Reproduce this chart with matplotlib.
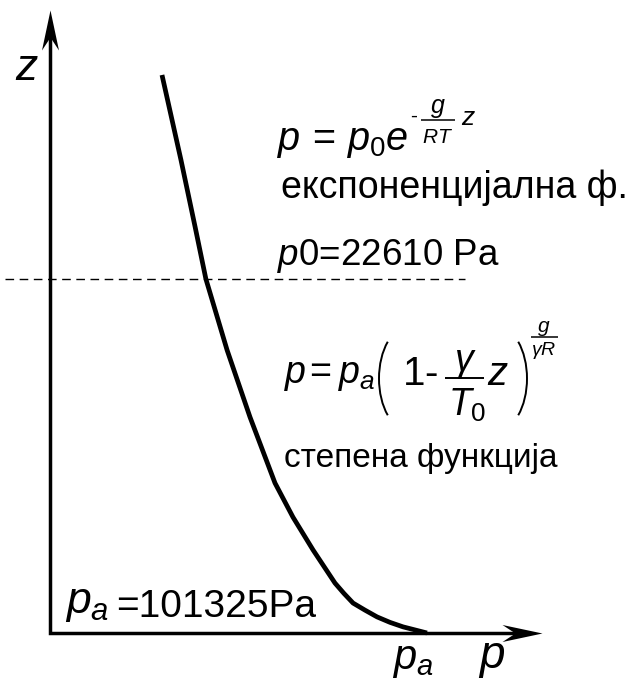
import matplotlib
matplotlib.use("Agg")
import matplotlib.pyplot as plt
from matplotlib.path import Path
from matplotlib.markers import MarkerStyle
from matplotlib.lines import Line2D
from matplotlib.patches import Arc
from matplotlib.transforms import IdentityTransform

plt.rcParams['font.family'] = ['Liberation Sans', 'DejaVu Sans']
plt.rcParams['mathtext.fontset'] = 'custom'
plt.rcParams['mathtext.rm'] = 'Liberation Sans'
plt.rcParams['mathtext.it'] = 'Liberation Sans:italic'
plt.rcParams['mathtext.bf'] = 'Liberation Sans:bold'
plt.rcParams['mathtext.sf'] = 'Liberation Sans'

# Schematic pressure profile of the atmosphere: pressure (Pa) against altitude (km)
pressure_pa = [30100, 35200, 39000, 41900, 47600, 53750, 60470, 65300, 70700,
               76600, 79000, 81450, 84660, 87900, 91380, 94900, 101325]
altitude_km = [17.34, 14.70, 12.62, 11.00, 8.79, 6.71, 4.66, 3.60, 2.58,
               1.55, 1.23, 0.93, 0.71, 0.50, 0.33, 0.19, 0.00]

# Reference levels
sea_level_pressure = 101325     # p_a
tropopause_pressure = 22610     # p_0
tropopause_altitude = 11.0      # km

W, H = 631, 682
fig = plt.figure(figsize=(W / 100, H / 100), dpi=100)
ax = fig.add_axes([0, 0, 1, 1])
ax.set_xlim(-13438, 156154)
ax.set_ylim(-1.523, 19.67)
ax.axis('off')

PIX = IdentityTransform()


def at(x, y):
    """Pixel position (from top-left) -> figure fraction."""
    return x / W, 1 - y / H


def txt(x, y, s, size, **kw):
    kw.setdefault('ha', 'left')
    fig.text(*at(x, y), s, fontsize=size, va='baseline', **kw)


def bar(x0, x1, y, lw=1.1):
    fig.add_artist(Line2D([x0, x1], [H - y, H - y], color='black', lw=lw,
                          transform=PIX, solid_capstyle='butt'))


def paren(cx, cy, w, h, left=True, lw=1.4):
    t1, t2 = (120, 240) if left else (-60, 60)
    fig.add_artist(Arc((cx, H - cy), w, h, theta1=t1, theta2=t2,
                       color='black', lw=lw, transform=PIX))


# axes with barbed arrow heads
z_top = 19.36
p_right = 132235
ax.plot([0, 0, p_right - 6700], [z_top - 0.8, 0, 0], color='black', lw=2.5,
        solid_joinstyle='miter', solid_capstyle='butt', zorder=3)

head = Path([(0, 0), (-40, -8.5), (-27, 0), (-40, 8.5), (0, 0)],
            [Path.MOVETO, Path.LINETO, Path.LINETO, Path.LINETO, Path.CLOSEPOLY])
head_up = Path([(0, 0), (8.5, -40), (0, -27), (-8.5, -40), (0, 0)],
               [Path.MOVETO, Path.LINETO, Path.LINETO, Path.LINETO, Path.CLOSEPOLY])
ax.plot([p_right], [0], marker=MarkerStyle(head), markersize=57.6,
        color='black', markeredgewidth=0, zorder=4)
ax.plot([0], [z_top], marker=MarkerStyle(head_up), markersize=57.6,
        color='black', markeredgewidth=0, zorder=4)

# tropopause level
ax.plot([-12096, 111540], [tropopause_altitude, tropopause_altitude],
        color='black', lw=1.0, ls=(0, (6.2, 4.0)), zorder=2)

# pressure curve
ax.plot(pressure_pa, altitude_km, color='black', lw=3.4,
        solid_joinstyle='round', solid_capstyle='butt', zorder=3)

# axis labels
txt(15, 80, 'z', 32, style='italic')
txt(392, 669, r'$p_a$', 30)
txt(478, 668, r'$p$', 33)

# exponential law above the tropopause
txt(277, 150, r'$p\,=\,p_0e$', 28.5)
txt(410, 122, '-', 15)
txt(438, 113, r'$g$', 18, ha='center')
bar(421, 455, 120)
txt(438, 143, r'$RT$', 15, ha='center')
txt(461, 125, r'$z$', 19)
txt(281, 198, 'експоненцијална ф.', 27)
txt(277, 265, f'$p$0={tropopause_pressure} Pa', 26.5)

# power law in the troposphere
txt(284, 383, r'$p$', 27)
txt(309, 383, '=', 27)
txt(338, 383, r'$p_a$', 27)
paren(409, 378.5, 60, 104, left=True)
txt(403, 385, '1', 29)
txt(424, 385, '-', 29)
txt(465, 371, r'$\gamma$', 27, ha='center')
bar(445, 484, 378, lw=1.4)
txt(467, 416, r'$T_0$', 27, ha='center')
txt(487, 385, r'$z$', 29)
paren(497, 378.5, 60, 104, left=False)
txt(544, 332, r'$g$', 15, ha='center')
bar(531, 558, 337)
txt(544, 355, r'$\gamma R$', 14, ha='center')
txt(284, 467, 'степена функција', 24)

# sea-level pressure
txt(65, 613, r'$p_a$', 32)
txt(116, 617, f'={sea_level_pressure}Pa', 28)

fig.savefig('out.png', dpi=100)
